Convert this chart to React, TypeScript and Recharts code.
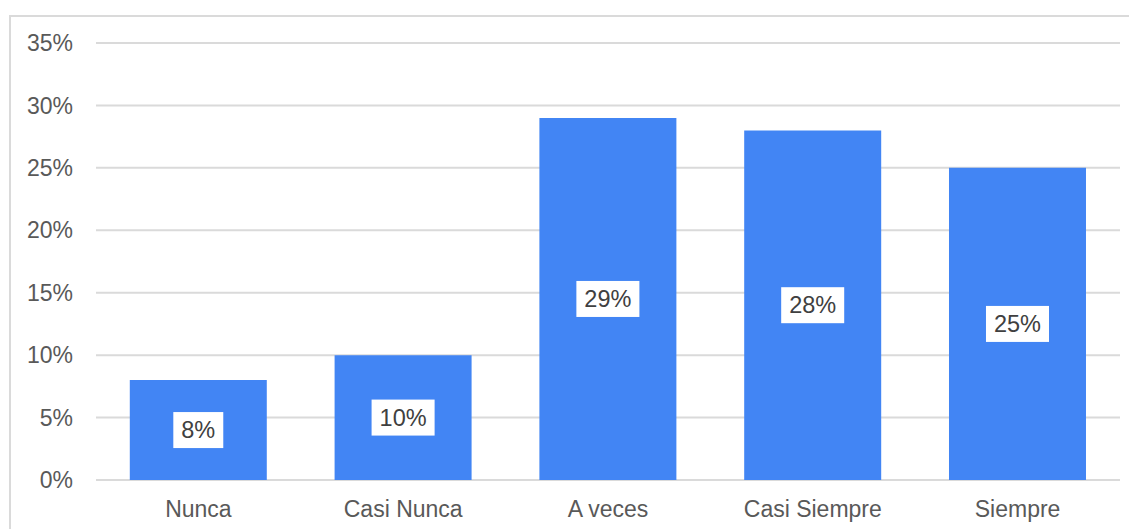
import React from "react";
import { BarChart, Bar, XAxis, YAxis, CartesianGrid, LabelList } from "recharts";

// Survey answers and their share of responses (%)
const categories = ["Nunca", "Casi Nunca", "A veces", "Casi Siempre", "Siempre"];
const shares = [8, 10, 29, 28, 25];
const yTicks = [0, 5, 10, 15, 20, 25, 30, 35];

const data = categories.map((name, i) => ({ name, share: shares[i] }));

const FONT = "'Liberation Sans', Arial, sans-serif";
const FONT_SIZE = 23;
const LABEL_SIZE = 23.5;
const BAR_COLOR = "#4285F4";
const GRID_COLOR = "#dadada";
const AXIS_TEXT = "#595959";
const LABEL_TEXT = "#404040";

// Approximate glyph widths (em) for the label box
const glyphWidth = (ch: string) => (ch === "%" ? 0.889 : 0.556);

const ValueBadge = (props: any) => {
  const { x, y, width, height, value } = props;
  const text = `${value}%`;
  const textW = text.split("").reduce((s, c) => s + glyphWidth(c), 0) * LABEL_SIZE;
  const boxW = textW + 16;
  const boxH = 36;
  const cx = x + width / 2;
  const cy = y + height / 2;
  return (
    <g>
      <rect x={cx - boxW / 2} y={cy - boxH / 2} width={boxW} height={boxH} fill="#ffffff" />
      <text
        x={cx}
        y={cy}
        textAnchor="middle"
        dominantBaseline="central"
        fontFamily={FONT}
        fontSize={LABEL_SIZE}
        fill={LABEL_TEXT}
      >
        {text}
      </text>
    </g>
  );
};

export default function App() {
  return (
    <div style={{ position: "relative", width: 1137, height: 529, fontFamily: FONT }}>
      <div
        style={{
          position: "absolute",
          left: 1,
          top: 7,
          width: 1128,
          height: 514,
          borderTop: `2px solid ${GRID_COLOR}`,
          borderLeft: `2px solid ${GRID_COLOR}`,
          boxSizing: "border-box",
        }}
      />
      <div style={{ position: "absolute", left: -8, top: -8 }}>
        <BarChart
          width={1137}
          height={529}
          data={data}
          margin={{ top: 43, right: 17, bottom: 19, left: 36 }}
          barCategoryGap="16.5%"
        >
          <CartesianGrid vertical={false} stroke={GRID_COLOR} strokeWidth={2} />
          <XAxis
            dataKey="name"
            axisLine={false}
            tickLine={false}
            tickMargin={15}
            interval={0}
            tick={{ fill: AXIS_TEXT, fontSize: FONT_SIZE, fontFamily: FONT }}
          />
          <YAxis
            width={60}
            domain={[0, 35]}
            ticks={yTicks}
            axisLine={false}
            tickLine={false}
            tickMargin={17}
            tickFormatter={(v: number) => `${v}%`}
            tick={{ fill: AXIS_TEXT, fontSize: FONT_SIZE, fontFamily: FONT }}
          />
          <Bar dataKey="share" fill={BAR_COLOR} isAnimationActive={false}>
            <LabelList dataKey="share" content={ValueBadge} />
          </Bar>
        </BarChart>
      </div>
    </div>
  );
}
